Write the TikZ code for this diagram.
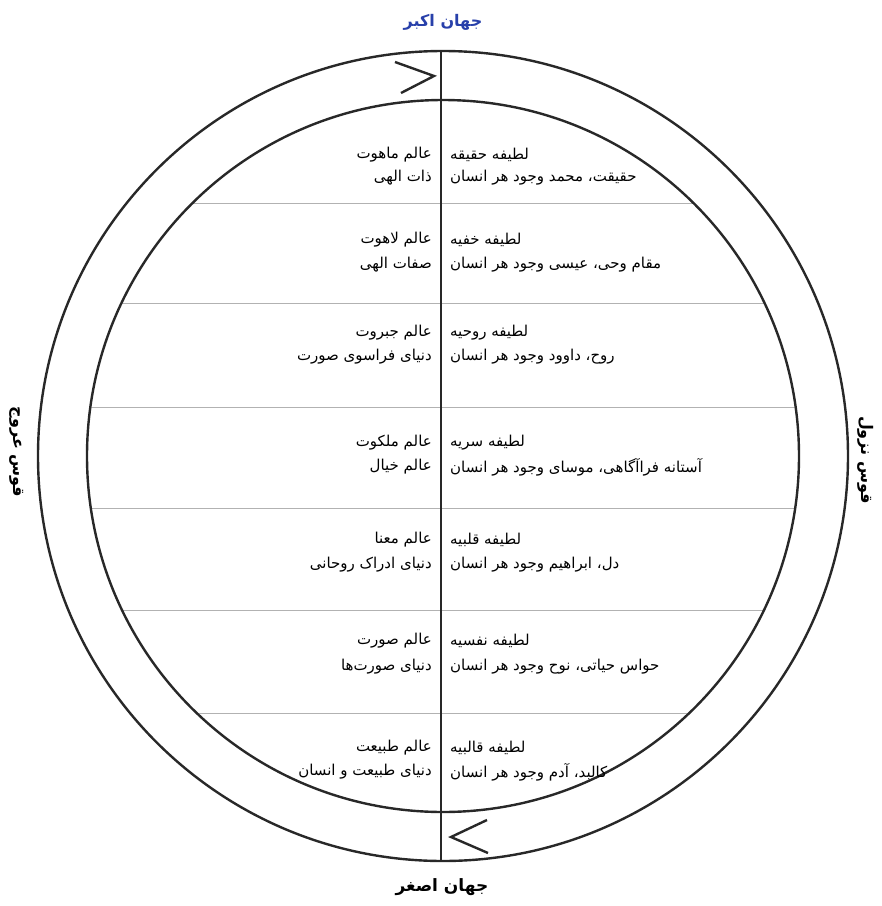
\documentclass[tikz,border=0pt]{standalone}
\usepackage{fontspec}
\TeXXeTstate=1
\newfontfamily\arabicfont[Script=Arabic]{DejaVu Sans}
\definecolor{titleblue}{RGB}{40,64,170}
\definecolor{ink}{RGB}{40,40,40}
\begin{document}
\begin{tikzpicture}[x=1pt,y=-1pt,
  ring/.style={draw=ink,line width=2.4pt},
  rowline/.style={draw=gray!60,line width=1pt},
  axisline/.style={draw=ink,line width=2.2pt},
  chev/.style={draw=ink,line width=2.4pt,line join=miter},
  lbl/.style={font=\arabicfont\fontsize{15}{17}\selectfont,inner sep=0pt},
  lft/.style={lbl,anchor=east},
  rgt/.style={lbl,anchor=west},
  side/.style={font=\arabicfont\bfseries\fontsize{16}{18}\selectfont,inner sep=0pt,rotate=-90}]
\useasboundingbox (0,0) rectangle (882,906);
\fill[white] (0,0) rectangle (882,906);
\coordinate (O) at (443,456);
% row separators
\begin{scope}
  \clip (O) circle (355pt);
  \foreach \y in {203,303,407,508,610,713} \draw[rowline] (0,\y) -- (882,\y);
\end{scope}
% circles
\draw[ring] (O) circle (405pt);
\draw[ring] (O) circle (356pt);
% axis
\coordinate (top) at (441,51);
\coordinate (bot) at (441,861);
\draw[axisline] (top) -- (bot);
% chevrons
\draw[chev] (395,62) -- (434,76) -- (401,93);
\draw[chev] (487,820) -- (451,837) -- (488,853);
% titles
\node[font=\arabicfont\bfseries\fontsize{16}{18}\selectfont,text=titleblue,inner sep=0pt] (big) at (443,22) {\beginR جهان اکبر\endR};
\node[font=\arabicfont\bfseries\fontsize{17}{19}\selectfont,text=black,inner sep=0pt] (small) at (442,887) {\beginR جهان اصغر\endR};
\node[side] (up) at (17,452) {\beginR قوس عروج\endR};
\node[side] (down) at (866,460) {\beginR قوس نزول\endR};
% row 1
\node[lft] (l1a) at (432,155) {\beginR عالم ماهوت\endR};
\node[lft] (l1b) at (432,178) {\beginR ذات الهی\endR};
\node[rgt] (r1a) at (450,155) {\beginR لطیفه حقیقه\endR};
\node[rgt] (r1b) at (450,178) {\beginR حقیقت، محمد وجود هر انسان\endR};
% row 2
\node[lft] (l2a) at (432,240) {\beginR عالم لاهوت\endR};
\node[lft] (l2b) at (432,265) {\beginR صفات الهی\endR};
\node[rgt] (r2a) at (450,240) {\beginR لطیفه خفیه\endR};
\node[rgt] (r2b) at (450,265) {\beginR مقام وحی، عیسی وجود هر انسان\endR};
% row 3
\node[lft] (l3a) at (432,333) {\beginR عالم جبروت\endR};
\node[lft] (l3b) at (432,357) {\beginR دنیای فراسوی صورت\endR};
\node[rgt] (r3a) at (450,333) {\beginR لطیفه روحیه\endR};
\node[rgt] (r3b) at (450,357) {\beginR روح، داوود وجود هر انسان\endR};
% row 4
\node[lft] (l4a) at (432,443) {\beginR عالم ملکوت\endR};
\node[lft] (l4b) at (432,467) {\beginR عالم خیال\endR};
\node[rgt] (r4a) at (450,443) {\beginR لطیفه سریه\endR};
\node[rgt] (r4b) at (450,467) {\beginR آستانه فراآگاهی، موسای وجود هر انسان\endR};
% row 5
\node[lft] (l5a) at (432,540) {\beginR عالم معنا\endR};
\node[lft] (l5b) at (432,565) {\beginR دنیای ادراک روحانی\endR};
\node[rgt] (r5a) at (450,540) {\beginR لطیفه قلبیه\endR};
\node[rgt] (r5b) at (450,565) {\beginR دل، ابراهیم وجود هر انسان\endR};
% row 6
\node[lft] (l6a) at (432,641) {\beginR عالم صورت\endR};
\node[lft] (l6b) at (432,667) {\beginR دنیای صورت‌ها\endR};
\node[rgt] (r6a) at (450,641) {\beginR لطیفه نفسیه\endR};
\node[rgt] (r6b) at (450,667) {\beginR حواس حیاتی، نوح وجود هر انسان\endR};
% row 7
\node[lft] (l7a) at (432,748) {\beginR عالم طبیعت\endR};
\node[lft] (l7b) at (432,772) {\beginR دنیای طبیعت و انسان\endR};
\node[rgt] (r7a) at (450,748) {\beginR لطیفه قالبیه\endR};
\node[rgt] (r7b) at (450,772) {\beginR کالبد، آدم وجود هر انسان\endR};
\end{tikzpicture}
\end{document}
